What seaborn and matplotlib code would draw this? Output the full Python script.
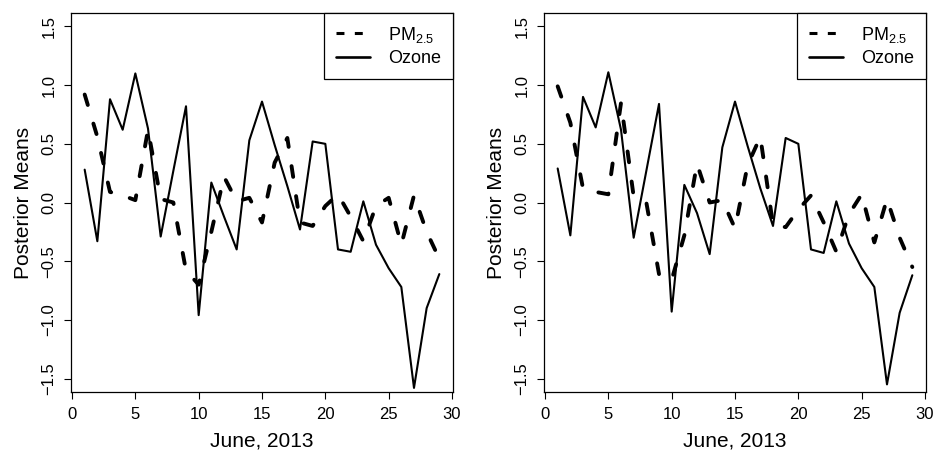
import matplotlib
matplotlib.use("Agg")
import matplotlib.pyplot as plt
import pandas as pd
import seaborn as sns
from matplotlib.lines import Line2D

# days of June 2013
days = list(range(1, 30))

# left panel
pm_left = [0.92, 0.56, 0.09, 0.06, 0.02, 0.62, 0.03, 0.00, -0.58, -0.70,
           -0.25, 0.22, 0.01, 0.04, -0.17, 0.34, 0.55, -0.17, -0.20, -0.03,
           0.07, -0.12, -0.33, -0.03, 0.04, -0.36, 0.06, -0.25, -0.48]
ozone_left = [0.28, -0.33, 0.88, 0.62, 1.10, 0.63, -0.29, 0.27, 0.82, -0.96,
              0.17, -0.12, -0.40, 0.53, 0.86, 0.49, 0.14, -0.23, 0.52, 0.50,
              -0.40, -0.42, 0.01, -0.36, -0.56, -0.72, -1.58, -0.90, -0.61]

# right panel
pm_right = [0.99, 0.68, 0.12, 0.09, 0.07, 0.85, 0.05, 0.00, -0.61, -0.66,
            -0.28, 0.33, 0.00, 0.02, -0.22, 0.32, 0.56, -0.19, -0.21, -0.06,
            0.06, -0.17, -0.42, -0.10, 0.07, -0.34, 0.03, -0.30, -0.55]
ozone_right = [0.29, -0.28, 0.90, 0.64, 1.11, 0.62, -0.30, 0.27, 0.84, -0.93,
               0.15, -0.09, -0.44, 0.47, 0.86, 0.48, 0.12, -0.20, 0.55, 0.50,
               -0.40, -0.43, 0.01, -0.35, -0.56, -0.72, -1.55, -0.94, -0.62]

xticks = [0, 5, 10, 15, 20, 25, 30]
yticks = [-1.5, -1.0, -0.5, 0.0, 0.5, 1.0, 1.5]

sns.set_style("ticks")
plt.rcParams['font.family'] = ['Liberation Sans', 'DejaVu Sans']
plt.rcParams['mathtext.fontset'] = 'custom'
plt.rcParams['mathtext.rm'] = 'Liberation Sans'
plt.rcParams['text.color'] = 'black'
plt.rcParams['axes.edgecolor'] = 'black'
plt.rcParams['xtick.color'] = 'black'
plt.rcParams['ytick.color'] = 'black'
plt.rcParams['axes.labelcolor'] = 'black'

PM_LW = 2.8
OZ_LW = 1.5
PM_DASH = (2.8, 5.0)

fig = plt.figure(figsize=(9.35, 4.51), dpi=100)
ax1 = fig.add_axes([71 / 935, 59 / 451, 382 / 935, 379 / 451])
ax2 = fig.add_axes([544 / 935, 59 / 451, 382 / 935, 379 / 451])


def draw_panel(ax, pm, ozone):
    df = pd.DataFrame({'day': days, 'pm': pm, 'ozone': ozone})
    sns.lineplot(data=df, x='day', y='pm', ax=ax, color='black', lw=PM_LW)
    sns.lineplot(data=df, x='day', y='ozone', ax=ax, color='black', lw=OZ_LW)
    pm_line = ax.lines[0]
    pm_line.set_dashes(PM_DASH)
    pm_line.set_dash_capstyle('round')
    ax.lines[1].set_solid_joinstyle('round')

    ax.set_xlim(-0.08, 30.08)
    ax.set_ylim(-1.615, 1.615)
    ax.set_xticks(xticks)
    ax.set_yticks(yticks)
    ax.set_xticklabels([str(t) for t in xticks])
    ax.set_yticklabels([f"{t:.1f}".replace('-', '\u2212') for t in yticks])
    for lab in ax.get_yticklabels():
        lab.set_rotation(90)
        lab.set_va('center')
    ax.tick_params(direction='out', length=5, width=0.8, labelsize=12, pad=5.5)
    for sp in ax.spines.values():
        sp.set_visible(True)
        sp.set_linewidth(0.9)
        sp.set_color('black')
    ax.set_xlabel("June, 2013", fontsize=15, labelpad=7)
    ax.set_ylabel("Posterior Means", fontsize=15, labelpad=6)

    handles = [
        Line2D([], [], color='black', lw=2.2, dashes=(2.6, 3.4)),
        Line2D([], [], color='black', lw=1.9),
    ]
    leg = ax.legend(handles, [r'PM$_{2.5}$', 'Ozone'], loc='upper right',
                    borderaxespad=0, fancybox=False, framealpha=1,
                    edgecolor='black', fontsize=13, handlelength=1.9,
                    handletextpad=1.0, borderpad=0.65, labelspacing=0.3)
    leg.get_frame().set_linewidth(0.9)


draw_panel(ax1, pm_left, ozone_left)
draw_panel(ax2, pm_right, ozone_right)

fig.savefig("out.png", dpi=100)
